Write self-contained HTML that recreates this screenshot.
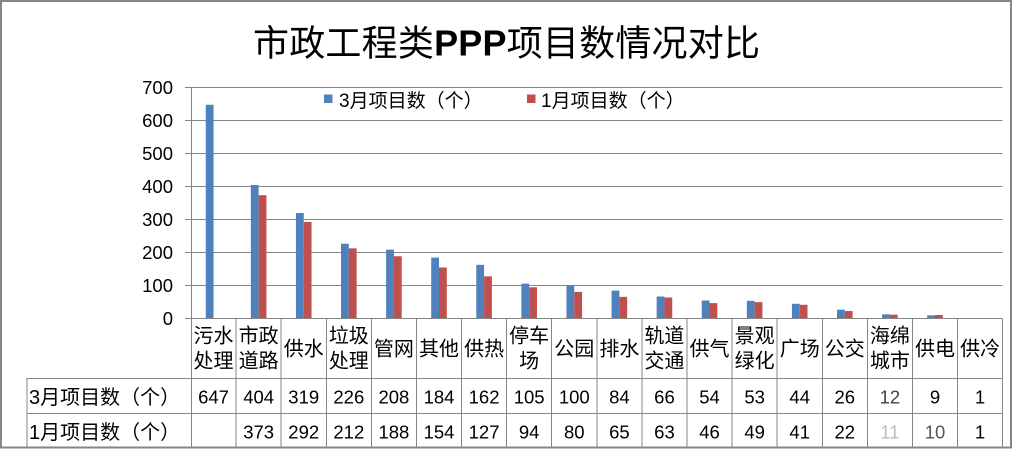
<!DOCTYPE html>
<html><head><meta charset="utf-8"><style>
html,body{margin:0;padding:0;background:#fff;}
svg{display:block;}
.cj{font-family:"Liberation Sans","Noto Sans CJK SC",sans-serif;}
.num{font-family:"Liberation Sans",sans-serif;font-size:18.5px;fill:#000;}
</style></head><body>
<svg width="1013" height="449" viewBox="0 0 1013 449" xmlns="http://www.w3.org/2000/svg">
<rect x="0" y="0" width="1013" height="449" fill="#fff"/>
<!-- outer border -->
<rect x="1" y="1" width="1010" height="446.5" fill="none" stroke="#868686" stroke-width="2"/>
<!-- title -->
<text class="cj" x="253" y="55.5" font-size="36" fill="#000" textLength="507" lengthAdjust="spacing">市政工程类<tspan font-weight="bold">PPP</tspan>项目数情况对比</text>
<!-- gridlines -->
<g stroke="#868686" stroke-width="1" shape-rendering="crispEdges">
<line x1="185" y1="87.5" x2="1002.6" y2="87.5"/>
<line x1="185" y1="120.5" x2="1002.6" y2="120.5"/>
<line x1="185" y1="153.5" x2="1002.6" y2="153.5"/>
<line x1="185" y1="186.5" x2="1002.6" y2="186.5"/>
<line x1="185" y1="219.5" x2="1002.6" y2="219.5"/>
<line x1="185" y1="252.5" x2="1002.6" y2="252.5"/>
<line x1="185" y1="285.5" x2="1002.6" y2="285.5"/>
</g>
<!-- legend -->
<rect x="324" y="94.5" width="8.5" height="8.5" fill="#4F81BD"/>
<text class="cj" x="339" y="107" font-size="19" fill="#000">3月项目数（个）</text>
<rect x="527" y="94.5" width="8.5" height="8.5" fill="#C0504D"/>
<text class="cj" x="541" y="107" font-size="19" fill="#000">1月项目数（个）</text>
<!-- y labels -->
<g class="num" text-anchor="end">
<text x="173" y="94">700</text>
<text x="173" y="127">600</text>
<text x="173" y="160">500</text>
<text x="173" y="193">400</text>
<text x="173" y="226">300</text>
<text x="173" y="259">200</text>
<text x="173" y="292">100</text>
<text x="173" y="325">0</text>
</g>
<!-- bars blue -->
<g fill="#4F81BD">
<rect x="205.75" y="104.79" width="7.8" height="213.51"/>
<rect x="250.84" y="184.98" width="7.8" height="133.32"/>
<rect x="295.93" y="213.03" width="7.8" height="105.27"/>
<rect x="341.02" y="243.72" width="7.8" height="74.58"/>
<rect x="386.11" y="249.66" width="7.8" height="68.64"/>
<rect x="431.2" y="257.58" width="7.8" height="60.72"/>
<rect x="476.29" y="264.84" width="7.8" height="53.46"/>
<rect x="521.38" y="283.65" width="7.8" height="34.65"/>
<rect x="566.47" y="285.3" width="7.8" height="33"/>
<rect x="611.56" y="290.58" width="7.8" height="27.72"/>
<rect x="656.65" y="296.52" width="7.8" height="21.78"/>
<rect x="701.74" y="300.48" width="7.8" height="17.82"/>
<rect x="746.83" y="300.81" width="7.8" height="17.49"/>
<rect x="791.92" y="303.78" width="7.8" height="14.52"/>
<rect x="837.01" y="309.72" width="7.8" height="8.58"/>
<rect x="882.1" y="314.34" width="7.8" height="3.96"/>
<rect x="927.19" y="315.33" width="7.8" height="2.97"/>
<rect x="972.28" y="317.97" width="7.8" height="0.33"/>
</g>
<!-- bars red -->
<g fill="#C0504D">
<rect x="258.64" y="195.21" width="7.8" height="123.09"/>
<rect x="303.73" y="221.94" width="7.8" height="96.36"/>
<rect x="348.82" y="248.34" width="7.8" height="69.96"/>
<rect x="393.91" y="256.26" width="7.8" height="62.04"/>
<rect x="439.0" y="267.48" width="7.8" height="50.82"/>
<rect x="484.09" y="276.39" width="7.8" height="41.91"/>
<rect x="529.18" y="287.28" width="7.8" height="31.02"/>
<rect x="574.27" y="291.9" width="7.8" height="26.4"/>
<rect x="619.36" y="296.85" width="7.8" height="21.45"/>
<rect x="664.45" y="297.51" width="7.8" height="20.79"/>
<rect x="709.54" y="303.12" width="7.8" height="15.18"/>
<rect x="754.63" y="302.13" width="7.8" height="16.17"/>
<rect x="799.72" y="304.77" width="7.8" height="13.53"/>
<rect x="844.81" y="311.04" width="7.8" height="7.26"/>
<rect x="889.9" y="314.67" width="7.8" height="3.63"/>
<rect x="934.99" y="315.0" width="7.8" height="3.3"/>
<rect x="980.08" y="317.97" width="7.8" height="0.33"/>
</g>
<!-- axis & table lines -->
<g stroke="#868686" stroke-width="1" shape-rendering="crispEdges">
<line x1="185" y1="318.5" x2="1002.6" y2="318.5"/>
<line x1="191.5" y1="87.5" x2="191.5" y2="447"/>
<line x1="26.7" y1="378.5" x2="1002.6" y2="378.5"/>
<line x1="26.7" y1="413.5" x2="1002.6" y2="413.5"/>
<line x1="27" y1="378.5" x2="27" y2="447"/>
<line x1="236.1" y1="318.3" x2="236.1" y2="447"/>
<line x1="281.2" y1="318.3" x2="281.2" y2="447"/>
<line x1="326.3" y1="318.3" x2="326.3" y2="447"/>
<line x1="371.4" y1="318.3" x2="371.4" y2="447"/>
<line x1="416.5" y1="318.3" x2="416.5" y2="447"/>
<line x1="461.5" y1="318.3" x2="461.5" y2="447"/>
<line x1="506.6" y1="318.3" x2="506.6" y2="447"/>
<line x1="551.7" y1="318.3" x2="551.7" y2="447"/>
<line x1="596.8" y1="318.3" x2="596.8" y2="447"/>
<line x1="641.9" y1="318.3" x2="641.9" y2="447"/>
<line x1="687.0" y1="318.3" x2="687.0" y2="447"/>
<line x1="732.1" y1="318.3" x2="732.1" y2="447"/>
<line x1="777.2" y1="318.3" x2="777.2" y2="447"/>
<line x1="822.3" y1="318.3" x2="822.3" y2="447"/>
<line x1="867.4" y1="318.3" x2="867.4" y2="447"/>
<line x1="912.4" y1="318.3" x2="912.4" y2="447"/>
<line x1="957.5" y1="318.3" x2="957.5" y2="447"/>
<line x1="1002.6" y1="318.3" x2="1002.6" y2="447"/>
</g>
<!-- category labels -->
<g class="cj" font-size="20" fill="#000" text-anchor="middle">
<text x="213.55" y="342.5">污水</text><text x="213.55" y="367.5">处理</text>
<text x="258.64" y="342.5">市政</text><text x="258.64" y="367.5">道路</text>
<text x="303.73" y="355.6">供水</text>
<text x="348.82" y="342.5">垃圾</text><text x="348.82" y="367.5">处理</text>
<text x="393.91" y="355.6">管网</text>
<text x="439.0" y="355.6">其他</text>
<text x="484.09" y="355.6">供热</text>
<text x="529.18" y="342.5">停车</text><text x="529.18" y="367.5">场</text>
<text x="574.27" y="355.6">公园</text>
<text x="619.36" y="355.6">排水</text>
<text x="664.45" y="342.5">轨道</text><text x="664.45" y="367.5">交通</text>
<text x="709.54" y="355.6">供气</text>
<text x="754.63" y="342.5">景观</text><text x="754.63" y="367.5">绿化</text>
<text x="799.72" y="355.6">广场</text>
<text x="844.81" y="355.6">公交</text>
<text x="889.9" y="342.5">海绵</text><text x="889.9" y="367.5">城市</text>
<text x="934.99" y="355.6">供电</text>
<text x="980.08" y="355.6">供冷</text>
</g>
<!-- row headers -->
<text class="cj" x="29" y="404" font-size="20" fill="#000">3月项目数（个）</text>
<text class="cj" x="29" y="439" font-size="20" fill="#000">1月项目数（个）</text>
<!-- values row 1 -->
<g class="num" text-anchor="middle">
<text x="213.55" y="403.3">647</text>
<text x="258.64" y="403.3">404</text>
<text x="303.73" y="403.3">319</text>
<text x="348.82" y="403.3">226</text>
<text x="393.91" y="403.3">208</text>
<text x="439.0" y="403.3">184</text>
<text x="484.09" y="403.3">162</text>
<text x="529.18" y="403.3">105</text>
<text x="574.27" y="403.3">100</text>
<text x="619.36" y="403.3">84</text>
<text x="664.45" y="403.3">66</text>
<text x="709.54" y="403.3">54</text>
<text x="754.63" y="403.3">53</text>
<text x="799.72" y="403.3">44</text>
<text x="844.81" y="403.3">26</text>
<text x="889.9" y="403.3" fill="#444">12</text>
<text x="934.99" y="403.3">9</text>
<text x="980.08" y="403.3">1</text>
</g>
<!-- values row 2 -->
<g class="num" text-anchor="middle">
<text x="258.64" y="438.3">373</text>
<text x="303.73" y="438.3">292</text>
<text x="348.82" y="438.3">212</text>
<text x="393.91" y="438.3">188</text>
<text x="439.0" y="438.3">154</text>
<text x="484.09" y="438.3">127</text>
<text x="529.18" y="438.3">94</text>
<text x="574.27" y="438.3">80</text>
<text x="619.36" y="438.3">65</text>
<text x="664.45" y="438.3">63</text>
<text x="709.54" y="438.3">46</text>
<text x="754.63" y="438.3">49</text>
<text x="799.72" y="438.3">41</text>
<text x="844.81" y="438.3">22</text>
<text x="889.9" y="438.3" fill="#bbb">11</text>
<text x="934.99" y="438.3" fill="#555">10</text>
<text x="980.08" y="438.3">1</text>
</g>
</svg>
</body></html>
